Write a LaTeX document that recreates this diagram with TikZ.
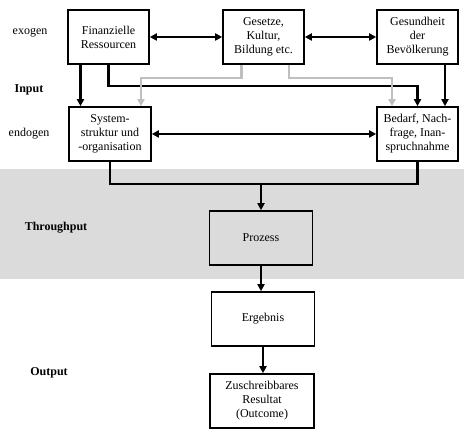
\documentclass[tikz,border=0pt]{standalone}
\usepackage{fontspec}
\setmainfont{Liberation Serif}
\usetikzlibrary{arrows.meta,positioning}

\begin{document}
\begin{tikzpicture}[
		x=1pt, y=-1pt,
		font=\fontsize{12}{14}\selectfont,
		box/.style={draw, line width=1.6pt, align=center, minimum width=81pt, minimum height=54pt, inner sep=1pt},
		wide/.style={box, minimum width=103pt},
		link/.style={line width=2.2pt, -{Triangle[length=7pt,width=7pt]}},
		both/.style={link, {Triangle[length=7pt,width=7pt]}-{Triangle[length=7pt,width=7pt]}},
		soft/.style={link, draw=black!25, -{Triangle[length=7pt,width=7pt,fill=black!25]}},
		side/.style={font=\fontsize{12}{14}\selectfont\bfseries},
	]
		\useasboundingbox (0,0) rectangle (474,443);
		\fill[black!14] (0,169) rectangle (464,279);

		% exogen
		\node[box] (fin) at (108.5,37) {Finanzielle\\Ressourcen};
		\node[box] (ges) at (263.5,37) {Gesetze,\\Kultur,\\Bildung etc.};
		\node[box] (gsd) at (417.5,37) {Gesundheit\\der\\Bevölkerung};

		% endogen
		\node[box, minimum width=82pt] (sys) at (110,134) {System-\\struktur und\\-organisation};
		\node[box] (bed) at (417.5,134) {Bedarf, Nach-\\frage, Inan-\\spruchnahme};

		% throughput, output
		\node[wide, fill=black!14] (proz) at (261,238) {Prozess};
		\node[wide] (erg) at (263,319) {Ergebnis};
		\node[wide, minimum width=104pt] (res) at (262,401) {Zuschreibbares\\Resultat\\(Outcome)};

		\node (exo) at (30,33) {exogen};
		\node[side] (inp) at (29,90) {Input};
		\node (endo) at (29,134) {endogen};
		\node[side] (thr) at (56,228) {Throughput};
		\node[side] (outp) at (49,373) {Output};

		\draw[both] (fin.east) -- (ges.west);
		\draw[both] (ges.east) -- (gsd.west);
		\draw[both] (sys.east) -- (bed.west);

		\draw[link] ([xshift=-28pt]fin.south) -- ([xshift=-28pt]fin.south |- sys.north);
		\draw[link] (fin.south) -- ++(0,21) -| (bed.north);
		\draw[link] ([xshift=27.5pt]gsd.south) -- ([xshift=27.5pt]bed.north);
		\draw[soft] ([xshift=-22pt]ges.south) -- ++(0,13) -| ([xshift=31pt]sys.north);
		\draw[soft] ([xshift=25.5pt]ges.south) -- ++(0,13) -| ([xshift=-25.5pt]bed.north);

		\path (proz.north) ++(0,-26) coordinate (join);
		\draw[line width=2.2pt] (sys.south) |- (join) -| (bed.south);
		\draw[link] (join) -- (proz.north);
		\draw[link] (proz.south) -- (proz.south |- erg.north);
		\draw[link] (erg.south) -- (erg.south |- res.north);
	\end{tikzpicture}
\end{document}
